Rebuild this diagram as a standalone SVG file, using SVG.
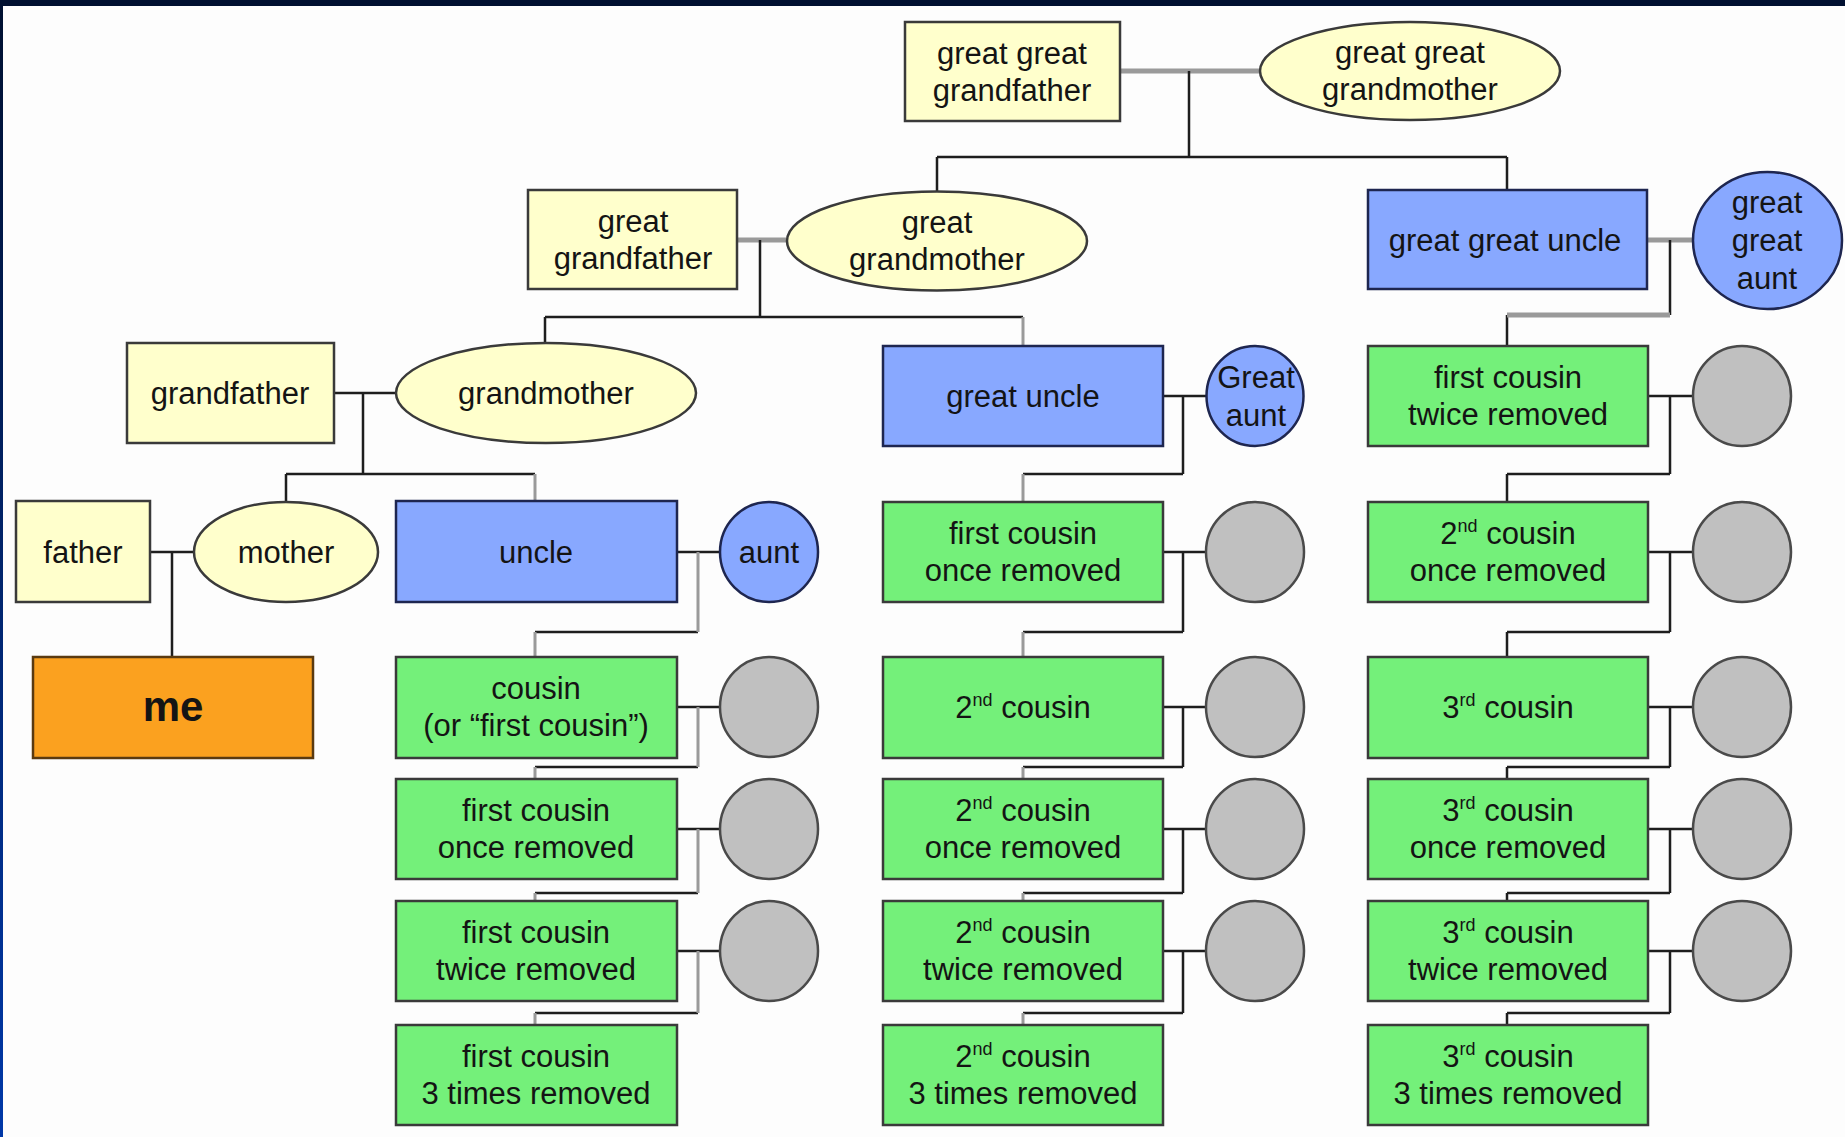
<svg xmlns="http://www.w3.org/2000/svg" width="1845" height="1137" viewBox="0 0 1845 1137">
  <style>
    text { font-family: "Liberation Sans", Arial, sans-serif; font-size: 31px; fill: #141414; text-anchor: middle; }
    .sup { font-size: 18px; }
    .me { font-size: 42px; font-weight: bold; }
    .yel { fill: #ffffcc; stroke: #3a3a3a; stroke-width: 2.5; }
    .blu { fill: #88a8ff; stroke: #1e2650; stroke-width: 2.5; }
    .grn { fill: #74f07a; stroke: #3a3a3a; stroke-width: 2.5; }
    .gry { fill: #c0c0c0; stroke: #4a4a4a; stroke-width: 2.5; }
    .org { fill: #fba11f; stroke: #5a3a10; stroke-width: 2.5; }
    .dk { fill: none; stroke: #1e1e1e; stroke-width: 2.5; }
    .lt { fill: none; stroke: #9a9a9a; stroke-width: 3; }
    .lw { fill: none; stroke: #9a9a9a; stroke-width: 5; }
  </style>
  <defs>
    <linearGradient id="edge" x1="0" y1="0" x2="0" y2="1">
      <stop offset="0" stop-color="#001030"/>
      <stop offset="1" stop-color="#0038a8"/>
    </linearGradient>
  </defs>

  <!-- page and frame -->
  <rect x="0" y="0" width="1845" height="1137" fill="#fdfdfd"/>
  <rect x="0" y="0" width="3" height="1137" fill="url(#edge)"/>
  <rect x="0" y="0" width="1845" height="6" fill="#001030"/>

  <!-- connectors -->
  <g id="connectors">
    <!-- great great grandparents -->
    <path class="lw" d="M1120 71H1261"/>
    <path class="dk" d="M1189 71V157M937 157H1507M937 157V192M1507 157V190"/>
    <!-- great grandparents -->
    <path class="lw" d="M737 240H786"/>
    <path class="dk" d="M760 240V317M545 317H1023M545 317V343"/>
    <path class="lt" d="M1023 317V346"/>
    <!-- great great uncle / aunt -->
    <path class="lw" d="M1647 240H1693"/>
    <path class="dk" d="M1670 240V315M1507 315V346"/>
    <path class="lw" d="M1507 315H1670"/>
    <!-- grandparents -->
    <path class="dk" d="M334 393H396M363 393V474M286 474H535M286 474V502"/>
    <path class="lt" d="M535 474V501"/>
    <!-- great uncle / aunt -->
    <path class="dk" d="M1163 396H1207M1183 396V474M1023 474H1183"/>
    <path class="lt" d="M1023 474V502"/>
    <!-- first cousin twice removed, right column -->
    <path class="dk" d="M1648 396H1693M1670 396V474M1507 474H1670M1507 474V502"/>
    <!-- parents -->
    <path class="dk" d="M150 552H194M172 552V657"/>
    <!-- column A -->
    <path class="dk" d="M677 552H720M535 632H698M677 707H720M535 767H698M677 829H720M535 893H698M677 951H720M535 1013H698"/>
    <path class="lt" d="M698 552V632M535 632V657M698 707V767M535 767V779M698 829V893M535 893V901M698 951V1013M535 1013V1025"/>
    <!-- column B -->
    <path class="dk" d="M1163 552H1207M1183 552V632M1023 632H1183M1163 707H1207M1183 707V767M1023 767H1183M1163 829H1207M1183 829V893M1023 893H1183M1163 951H1207M1183 951V1013M1023 1013H1183"/>
    <path class="lt" d="M1023 632V657M1023 767V779M1023 893V901M1023 1013V1025"/>
    <!-- column C -->
    <path class="dk" d="M1648 552H1693M1670 552V632M1507 632H1670M1507 632V657M1648 707H1693M1670 707V767M1507 767H1670M1507 767V779M1648 829H1693M1670 829V893M1507 893H1670M1507 893V901M1648 951H1693M1670 951V1013M1507 1013H1670M1507 1013V1025"/>
  </g>

  <!-- generation 0 -->
  <g id="great-great-grandfather">
    <rect class="yel" x="905" y="22" width="215" height="99"/>
    <text x="1012" y="64">great great</text>
    <text x="1012" y="101">grandfather</text>
  </g>
  <g id="great-great-grandmother">
    <ellipse class="yel" cx="1410" cy="71" rx="150" ry="49"/>
    <text x="1410" y="63">great great</text>
    <text x="1410" y="100">grandmother</text>
  </g>

  <!-- generation 1 -->
  <g id="great-grandfather">
    <rect class="yel" x="528" y="190" width="209" height="99"/>
    <text x="633" y="232">great</text>
    <text x="633" y="269">grandfather</text>
  </g>
  <g id="great-grandmother">
    <ellipse class="yel" cx="937" cy="241" rx="150" ry="49.5"/>
    <text x="937" y="233">great</text>
    <text x="937" y="270">grandmother</text>
  </g>
  <g id="great-great-uncle">
    <rect class="blu" x="1368" y="190" width="279" height="99"/>
    <text x="1505" y="251">great great uncle</text>
  </g>
  <g id="great-great-aunt">
    <ellipse class="blu" cx="1767.5" cy="240.5" rx="74.5" ry="68.5"/>
    <text x="1767" y="213">great</text>
    <text x="1767" y="251">great</text>
    <text x="1767" y="289">aunt</text>
  </g>

  <!-- generation 2 -->
  <g id="grandfather">
    <rect class="yel" x="127" y="343" width="207" height="100"/>
    <text x="230" y="404">grandfather</text>
  </g>
  <g id="grandmother">
    <ellipse class="yel" cx="546" cy="393" rx="150" ry="50"/>
    <text x="546" y="404">grandmother</text>
  </g>
  <g id="great-uncle">
    <rect class="blu" x="883" y="346" width="280" height="100"/>
    <text x="1023" y="407">great uncle</text>
  </g>
  <g id="great-aunt">
    <ellipse class="blu" cx="1255" cy="396" rx="48.5" ry="50"/>
    <text x="1256" y="388">Great</text>
    <text x="1256" y="426">aunt</text>
  </g>
  <g id="c1-r2">
    <rect class="grn" x="1368" y="346" width="280" height="100"/>
    <text x="1508" y="388">first cousin</text>
    <text x="1508" y="425">twice removed</text>
  </g>
  <g id="s-c1-r2"><ellipse class="gry" cx="1742" cy="396" rx="49" ry="50"/></g>

  <!-- generation 3 -->
  <g id="father">
    <rect class="yel" x="16" y="501" width="134" height="101"/>
    <text x="83" y="563">father</text>
  </g>
  <g id="mother">
    <ellipse class="yel" cx="286" cy="552" rx="92" ry="50"/>
    <text x="286" y="563">mother</text>
  </g>
  <g id="uncle">
    <rect class="blu" x="396" y="501" width="281" height="101"/>
    <text x="536" y="563">uncle</text>
  </g>
  <g id="aunt">
    <ellipse class="blu" cx="769" cy="552" rx="49" ry="50"/>
    <text x="769" y="563">aunt</text>
  </g>
  <g id="b-r3">
    <rect class="grn" x="883" y="502" width="280" height="100"/>
    <text x="1023" y="544">first cousin</text>
    <text x="1023" y="581">once removed</text>
  </g>
  <g id="s-b-r3"><ellipse class="gry" cx="1255" cy="552" rx="49" ry="50"/></g>
  <g id="c-r3">
    <rect class="grn" x="1368" y="502" width="280" height="100"/>
    <text x="1508" y="544">2<tspan class="sup" dy="-12">nd</tspan><tspan dy="12"> cousin</tspan></text>
    <text x="1508" y="581">once removed</text>
  </g>
  <g id="s-c-r3"><ellipse class="gry" cx="1742" cy="552" rx="49" ry="50"/></g>

  <!-- generation 4 -->
  <g id="me">
    <rect class="org" x="33" y="657" width="280" height="101"/>
    <text class="me" x="173" y="721">me</text>
  </g>
  <g id="a-r4">
    <rect class="grn" x="396" y="657" width="281" height="101"/>
    <text x="536" y="699">cousin</text>
    <text x="536" y="736">(or “first cousin”)</text>
  </g>
  <g id="s-a-r4"><ellipse class="gry" cx="769" cy="707" rx="49" ry="50"/></g>
  <g id="b-r4">
    <rect class="grn" x="883" y="657" width="280" height="101"/>
    <text x="1023" y="718">2<tspan class="sup" dy="-12">nd</tspan><tspan dy="12"> cousin</tspan></text>
  </g>
  <g id="s-b-r4"><ellipse class="gry" cx="1255" cy="707" rx="49" ry="50"/></g>
  <g id="c-r4">
    <rect class="grn" x="1368" y="657" width="280" height="101"/>
    <text x="1508" y="718">3<tspan class="sup" dy="-12">rd</tspan><tspan dy="12"> cousin</tspan></text>
  </g>
  <g id="s-c-r4"><ellipse class="gry" cx="1742" cy="707" rx="49" ry="50"/></g>

  <!-- generation 5 -->
  <g id="a-r5">
    <rect class="grn" x="396" y="779" width="281" height="100"/>
    <text x="536" y="821">first cousin</text>
    <text x="536" y="858">once removed</text>
  </g>
  <g id="s-a-r5"><ellipse class="gry" cx="769" cy="829" rx="49" ry="50"/></g>
  <g id="b-r5">
    <rect class="grn" x="883" y="779" width="280" height="100"/>
    <text x="1023" y="821">2<tspan class="sup" dy="-12">nd</tspan><tspan dy="12"> cousin</tspan></text>
    <text x="1023" y="858">once removed</text>
  </g>
  <g id="s-b-r5"><ellipse class="gry" cx="1255" cy="829" rx="49" ry="50"/></g>
  <g id="c-r5">
    <rect class="grn" x="1368" y="779" width="280" height="100"/>
    <text x="1508" y="821">3<tspan class="sup" dy="-12">rd</tspan><tspan dy="12"> cousin</tspan></text>
    <text x="1508" y="858">once removed</text>
  </g>
  <g id="s-c-r5"><ellipse class="gry" cx="1742" cy="829" rx="49" ry="50"/></g>

  <!-- generation 6 -->
  <g id="a-r6">
    <rect class="grn" x="396" y="901" width="281" height="100"/>
    <text x="536" y="943">first cousin</text>
    <text x="536" y="980">twice removed</text>
  </g>
  <g id="s-a-r6"><ellipse class="gry" cx="769" cy="951" rx="49" ry="50"/></g>
  <g id="b-r6">
    <rect class="grn" x="883" y="901" width="280" height="100"/>
    <text x="1023" y="943">2<tspan class="sup" dy="-12">nd</tspan><tspan dy="12"> cousin</tspan></text>
    <text x="1023" y="980">twice removed</text>
  </g>
  <g id="s-b-r6"><ellipse class="gry" cx="1255" cy="951" rx="49" ry="50"/></g>
  <g id="c-r6">
    <rect class="grn" x="1368" y="901" width="280" height="100"/>
    <text x="1508" y="943">3<tspan class="sup" dy="-12">rd</tspan><tspan dy="12"> cousin</tspan></text>
    <text x="1508" y="980">twice removed</text>
  </g>
  <g id="s-c-r6"><ellipse class="gry" cx="1742" cy="951" rx="49" ry="50"/></g>

  <!-- generation 7 -->
  <g id="a-r7">
    <rect class="grn" x="396" y="1025" width="281" height="100"/>
    <text x="536" y="1067">first cousin</text>
    <text x="536" y="1104">3 times removed</text>
  </g>
  <g id="b-r7">
    <rect class="grn" x="883" y="1025" width="280" height="100"/>
    <text x="1023" y="1067">2<tspan class="sup" dy="-12">nd</tspan><tspan dy="12"> cousin</tspan></text>
    <text x="1023" y="1104">3 times removed</text>
  </g>
  <g id="c-r7">
    <rect class="grn" x="1368" y="1025" width="280" height="100"/>
    <text x="1508" y="1067">3<tspan class="sup" dy="-12">rd</tspan><tspan dy="12"> cousin</tspan></text>
    <text x="1508" y="1104">3 times removed</text>
  </g>
</svg>
